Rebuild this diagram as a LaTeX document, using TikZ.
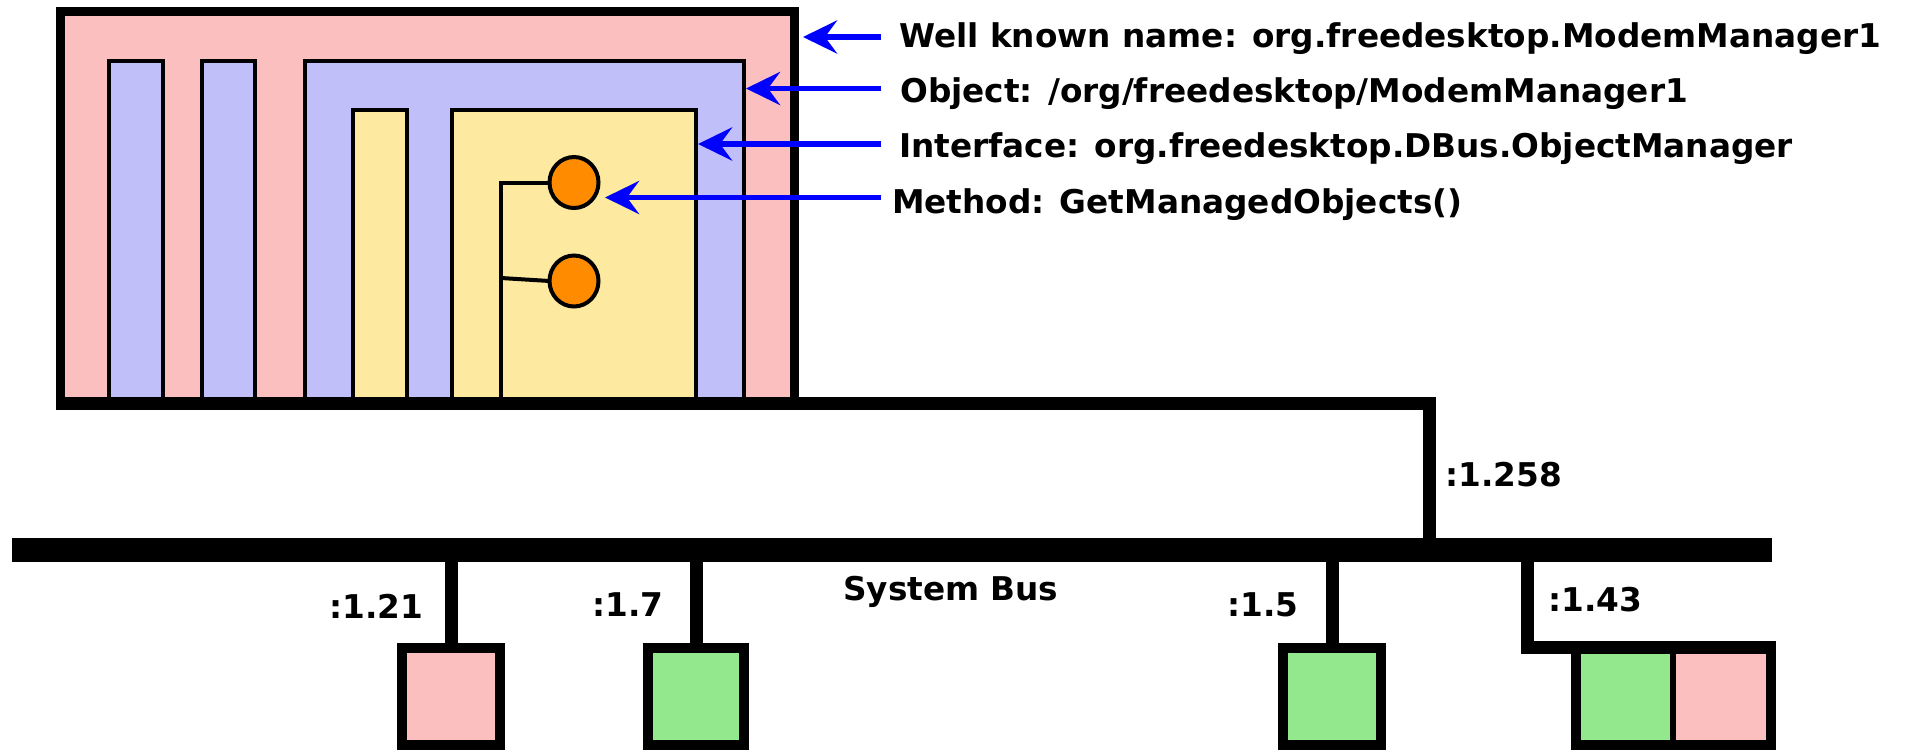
\documentclass[tikz,border=0pt]{standalone}
\usepackage{fontspec}
\setmainfont{DejaVu Sans}
\usetikzlibrary{arrows.meta,shapes.geometric}
\definecolor{pinkc}{HTML}{FBBFBF}
\definecolor{lavc}{HTML}{C1BFFA}
\definecolor{yelc}{HTML}{FDEAA0}
\definecolor{grnc}{HTML}{93E78D}
\definecolor{orgc}{HTML}{FF8C00}
\definecolor{arrc}{HTML}{0000FF}
\tikzset{
  lab/.style={font=\fontsize{32.7pt}{39pt}\selectfont\bfseries, inner sep=0pt, anchor=base west},
  frame/.style={draw=black, line width=9pt, fill=pinkc},
  inner/.style={draw=black, line width=4pt},
  thin/.style={draw=black, line width=4pt},
  bar/.style={draw=black, line width=13pt, line join=miter},
  busline/.style={draw=black, line width=24pt},
  box/.style={draw=black, line width=10pt, minimum height=97.5pt, inner sep=0pt, outer sep=0pt},
  meth/.style={draw=black, line width=4pt, fill=orgc, ellipse, minimum width=49pt, minimum height=51pt, inner sep=0pt, outer sep=0pt},
  arr/.style={draw=arrc, line width=5.5pt, -{Stealth[length=34pt,width=33pt,inset=12pt]}}
}
\begin{document}
\begin{tikzpicture}[x=1pt,y=-1pt]
\useasboundingbox (0,0) rectangle (1917,750);
% service frame
\draw[frame] (60,11.5) rectangle (794,403);
\draw[inner, fill=lavc] (109,61) rectangle (163,403);
\draw[inner, fill=lavc] (202,61) rectangle (255,403);
\draw[inner, fill=lavc] (305,61) rectangle (744,403);
\draw[inner, fill=yelc] (353,110) rectangle (407,403);
\draw[inner, fill=yelc] (452,110) rectangle (696,403);
% methods
\node[meth] (m1) at (574,182.5) {};
\node[meth] (m2) at (574,281) {};
\coordinate (treeB) at (501,403);
\draw[thin] (treeB) -- (treeB |- m1.west) -- (m1.west);
\draw[thin] (501,278) -- (m2.west);
% connection to bus
\coordinate (busL) at (12,549.5);
\coordinate (busR) at (1772,549.5);
\coordinate (conn) at (1429.5,549.5);
\draw[bar] (55.5,403.5) -| (conn);
\draw[busline] (busL) -- (busR);
% clients
\node[box, fill=pinkc, minimum width=98pt] (b1) at (451,696.25) {};
\node[box, fill=grnc, minimum width=96pt] (b2) at (696,696.25) {};
\node[box, fill=grnc, minimum width=98pt] (b3) at (1332,696.25) {};
\node[box, draw=none, fill=grnc, minimum width=97pt] (b4a) at (1624.5,696.25) {};
\node[box, draw=none, fill=pinkc, minimum width=98pt] (b4b) at (1722,696.25) {};
\draw[line width=10pt] (b4a.north west) rectangle (b4b.south east);
\draw[line width=6pt] (b4a.north east) -- (b4a.south east);
\draw[bar] (b1.north |- busL) -- (b1.north);
\draw[bar] (b2.north |- busL) -- (b2.north);
\draw[bar] (b3.north |- busL) -- (b3.north);
\draw[bar] (1527,549.5) -- (1527,647.5) -- ([xshift=5pt]b4b.north east);
% bus labels
\node[lab] (l258) at (1445,486) {:1.258};
\node[lab] (l21) at (329,618) {:1.21};
\node[lab] (l7) at (592,616) {:1.7};
\node[lab] (sb) at (843,600) {System Bus};
\node[lab] (l5) at (1227,616) {:1.5};
\node[lab] (l43) at (1548,611) {:1.43};
% annotations
\node[lab] (wk) at (899,47) {Well known name: org.freedesktop.ModemManager1};
\node[lab] (ob) at (900,102) {Object: /org/freedesktop/ModemManager1};
\node[lab] (if) at (899,157) {Interface: org.freedesktop.DBus.ObjectManager};
\node[lab] (me) at (892,213) {Method: GetManagedObjects()};
\coordinate (wkT) at (881,37);   \coordinate (wkH) at (803,37);
\coordinate (obT) at (881,88.5); \coordinate (obH) at (746,88.5);
\coordinate (ifT) at (881,144);  \coordinate (ifH) at (698,144);
\coordinate (meT) at (881,197.5);\coordinate (meH) at (605,197.5);
\draw[arr] (wkT) -- (wkH);
\draw[arr] (obT) -- (obH);
\draw[arr] (ifT) -- (ifH);
\draw[arr] (meT) -- (meH);
\end{tikzpicture}
\end{document}
